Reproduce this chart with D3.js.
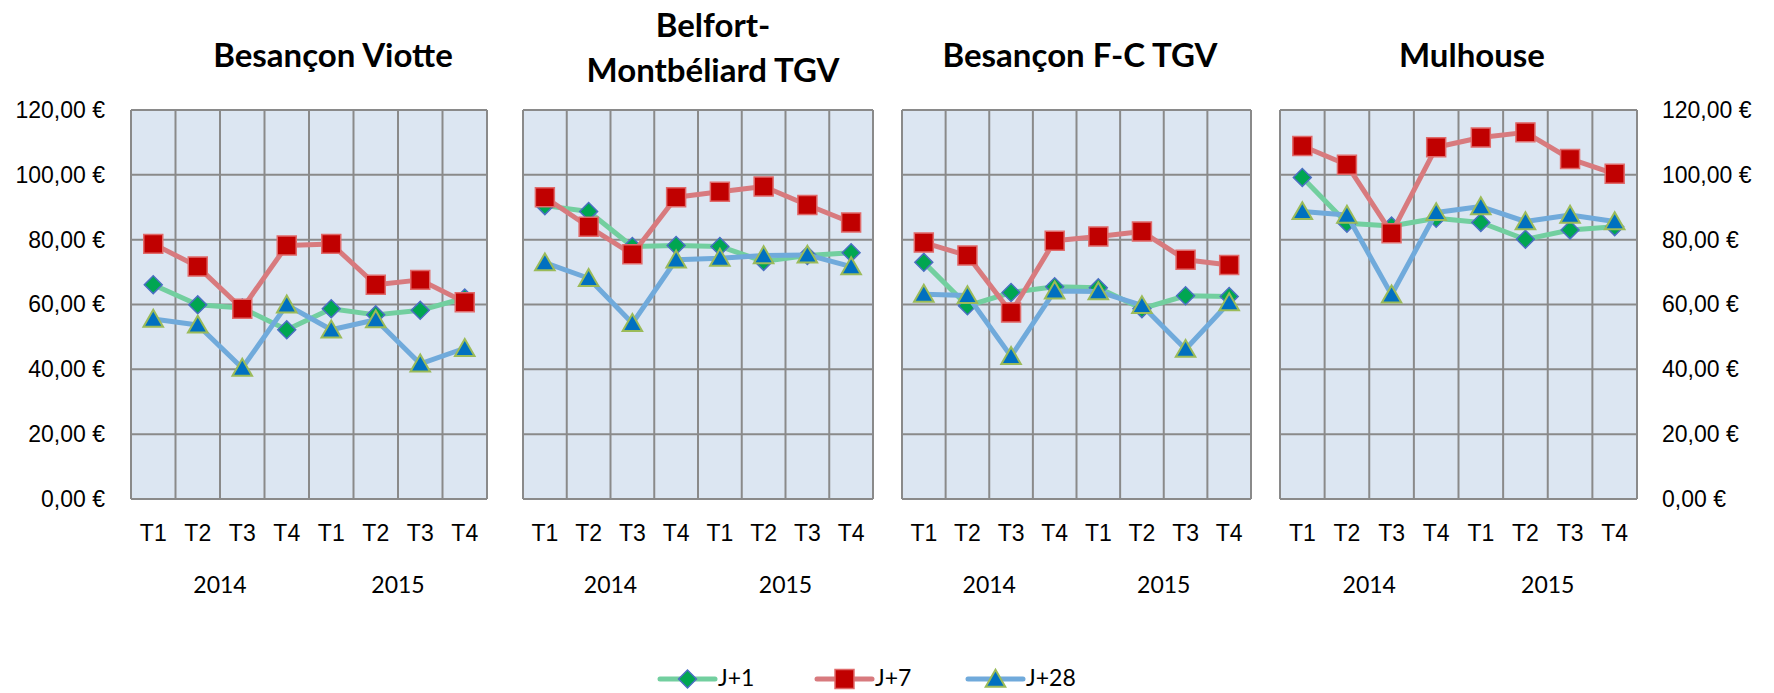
<!DOCTYPE html>
<html>
<head>
<meta charset="utf-8">
<script src="https://cdn.jsdelivr.net/npm/d3@7"></script>
<style>
  body { margin: 0; background: #fff; }
  svg { display: block; font-family: Lato, "Open Sans", sans-serif; }
  .tick text { font-size: 23px; fill: #000; }
  .chart-title { font-size: 33px; font-weight: bold; fill: #000; }
  .year-label, .legend-label { font-size: 23px; fill: #000; }
</style>
</head>
<body>
<div id="chart"></div>
<script>
// Prix moyen par gare, J+1 / J+7 / J+28, par trimestre 2014-2015

const quarters = ['T1', 'T2', 'T3', 'T4', 'T1', 'T2', 'T3', 'T4'];
const years = ['2014', '2015'];
const seriesNames = ['J+1', 'J+7', 'J+28'];
const yTicks = [0, 20, 40, 60, 80, 100, 120];

const titleViotte = ['Besançon Viotte'];
const titleBelfort = ['Belfort-', 'Montbéliard TGV'];
const titleFC = ['Besançon F-C TGV'];
const titleMulhouse = ['Mulhouse'];

const viotteJ1 = [66.1, 59.9, 58.9, 52.2, 58.7, 56.8, 58.2, 62.0];
const viotteJ7 = [78.7, 71.7, 58.7, 78.2, 78.7, 66.1, 67.6, 60.7];
const viotteJ28 = [55.5, 53.7, 40.4, 59.9, 52.2, 55.3, 41.7, 46.5];

const belfortJ1 = [90.5, 88.7, 77.9, 78.2, 77.9, 73.3, 75.1, 76.0];
const belfortJ7 = [93.1, 84.0, 75.5, 93.1, 94.8, 96.4, 90.7, 85.3];
const belfortJ28 = [72.9, 68.1, 54.2, 73.8, 74.3, 75.1, 75.3, 71.7];

const fcJ1 = [73.0, 59.6, 63.7, 65.5, 65.2, 58.7, 62.7, 62.5];
const fcJ7 = [79.1, 75.1, 57.5, 79.7, 81.0, 82.5, 73.8, 72.2];
const fcJ28 = [63.2, 62.8, 44.0, 64.2, 64.0, 59.7, 46.2, 60.6];

const mulhouseJ1 = [99.2, 85.1, 84.2, 86.6, 85.3, 80.1, 83.0, 84.0];
const mulhouseJ7 = [108.9, 103.1, 82.0, 108.5, 111.5, 113.1, 104.9, 100.3];
const mulhouseJ28 = [88.7, 87.6, 63.0, 88.4, 90.2, 85.6, 87.6, 85.6];

const width = 1774;
const height = 693;
const plotTop = 110;
const plotBottom = 499;

const panels = [
  { title: titleViotte, left: 131, right: 487, titleX: 333, series: [viotteJ1, viotteJ7, viotteJ28] },
  { title: titleBelfort, left: 523, right: 873, titleX: 713, series: [belfortJ1, belfortJ7, belfortJ28] },
  { title: titleFC, left: 902, right: 1251, titleX: 1080, series: [fcJ1, fcJ7, fcJ28] },
  { title: titleMulhouse, left: 1280, right: 1637, titleX: 1472, series: [mulhouseJ1, mulhouseJ7, mulhouseJ28] }
];

const styles = [
  { line: '#72cf9f', fill: '#00a651', stroke: '#4a6fc2', strokeWidth: 1.5, symbol: d3.symbolSquare, size: 160, rotate: 45, dy: 0 },
  { line: '#d87a7e', fill: '#c00000', stroke: '#e06a6a', strokeWidth: 1.5, symbol: d3.symbolSquare, size: 360, rotate: 0, dy: 0 },
  { line: '#70aadb', fill: '#0070c0', stroke: '#9bbb59', strokeWidth: 2, symbol: d3.symbolTriangle, size: 165, rotate: 0, dy: 2 }
];

const gridColor = '#8a8a8a';
const plotFill = '#dce6f2';

const locale = d3.formatLocale({ decimal: ',', thousands: ' ', grouping: [3], currency: ['', ' €'] });
const euro = locale.format('$.2f');

const svg = d3.select('#chart').append('svg')
  .attr('width', width)
  .attr('height', height);

const y = d3.scaleLinear().domain([0, 120]).range([plotBottom, plotTop]);

function markerPath(style) {
  return d3.symbol().type(style.symbol).size(style.size)();
}

panels.forEach((p, pi) => {
  const x = d3.scaleBand()
    .domain(d3.range(quarters.length))
    .range([p.left, p.right]);
  const cx = i => x(i) + x.bandwidth() / 2;

  const g = svg.append('g').attr('class', 'panel');

  g.append('rect')
    .attr('x', p.left)
    .attr('y', plotTop)
    .attr('width', p.right - p.left)
    .attr('height', plotBottom - plotTop)
    .attr('fill', plotFill);

  // horizontal grid
  g.selectAll('.hgrid')
    .data(yTicks)
    .enter().append('line')
    .attr('class', 'hgrid')
    .attr('x1', p.left)
    .attr('x2', p.right)
    .attr('y1', d => y(d))
    .attr('y2', d => y(d))
    .attr('stroke', gridColor)
    .attr('stroke-width', 2);

  // vertical grid at category edges
  const edges = d3.range(quarters.length).map(i => x(i)).concat([p.right]);
  g.selectAll('.vgrid')
    .data(edges)
    .enter().append('line')
    .attr('class', 'vgrid')
    .attr('x1', d => d)
    .attr('x2', d => d)
    .attr('y1', plotTop)
    .attr('y2', plotBottom)
    .attr('stroke', gridColor)
    .attr('stroke-width', 2);

  // quarter labels
  const xAxis = g.append('g')
    .attr('transform', `translate(0,${plotBottom})`)
    .call(d3.axisBottom(x).tickSize(0).tickPadding(26).tickFormat(i => quarters[i]));
  xAxis.select('.domain').remove();

  // year labels
  g.selectAll('.year-label')
    .data(years)
    .enter().append('text')
    .attr('class', 'year-label')
    .attr('x', (d, i) => (x(i * 4) + x(i * 4 + 3) + x.bandwidth()) / 2)
    .attr('y', 593)
    .attr('text-anchor', 'middle')
    .text(d => d);

  // title
  const title = g.append('text')
    .attr('class', 'chart-title')
    .attr('text-anchor', 'middle');
  const baseY = p.title.length > 1 ? 37 : 67;
  p.title.forEach((t, li) => {
    title.append('tspan')
      .attr('x', p.titleX)
      .attr('y', baseY + li * 45)
      .text(t);
  });

  if (pi === 0) {
    const yAxis = g.append('g')
      .attr('transform', `translate(${p.left},0)`)
      .call(d3.axisLeft(y).tickValues(yTicks).tickSize(0).tickPadding(26).tickFormat(euro));
    yAxis.select('.domain').remove();
  }
  if (pi === panels.length - 1) {
    const yAxis = g.append('g')
      .attr('transform', `translate(${p.right},0)`)
      .call(d3.axisRight(y).tickValues(yTicks).tickSize(0).tickPadding(25).tickFormat(euro));
    yAxis.select('.domain').remove();
  }

  const line = d3.line()
    .x((d, i) => cx(i))
    .y(d => y(d));

  p.series.forEach((values, si) => {
    const st = styles[si];
    g.append('path')
      .datum(values)
      .attr('d', line)
      .attr('fill', 'none')
      .attr('stroke', st.line)
      .attr('stroke-width', 5)
      .attr('stroke-linejoin', 'round');

    g.selectAll(`.marker-${si}`)
      .data(values)
      .enter().append('path')
      .attr('class', `marker-${si}`)
      .attr('d', markerPath(st))
      .attr('transform', (d, i) => `translate(${cx(i)},${y(d) + st.dy}) rotate(${st.rotate})`)
      .attr('fill', st.fill)
      .attr('stroke', st.stroke)
      .attr('stroke-width', st.strokeWidth);
  });
});

// legend
const legendY = 679;
const legendX = [660, 817, 968];
const legend = svg.append('g').attr('class', 'legend');
seriesNames.forEach((name, i) => {
  const st = styles[i];
  const x0 = legendX[i];
  legend.append('line')
    .attr('x1', x0)
    .attr('x2', x0 + 55)
    .attr('y1', legendY)
    .attr('y2', legendY)
    .attr('stroke', st.line)
    .attr('stroke-width', 5)
    .attr('stroke-linecap', 'round');
  legend.append('path')
    .attr('d', markerPath(st))
    .attr('transform', `translate(${x0 + 27.5},${legendY + st.dy}) rotate(${st.rotate})`)
    .attr('fill', st.fill)
    .attr('stroke', st.stroke)
    .attr('stroke-width', st.strokeWidth);
  legend.append('text')
    .attr('class', 'legend-label')
    .attr('x', x0 + 58)
    .attr('y', legendY + 7)
    .text(name);
});
</script>
</body>
</html>
